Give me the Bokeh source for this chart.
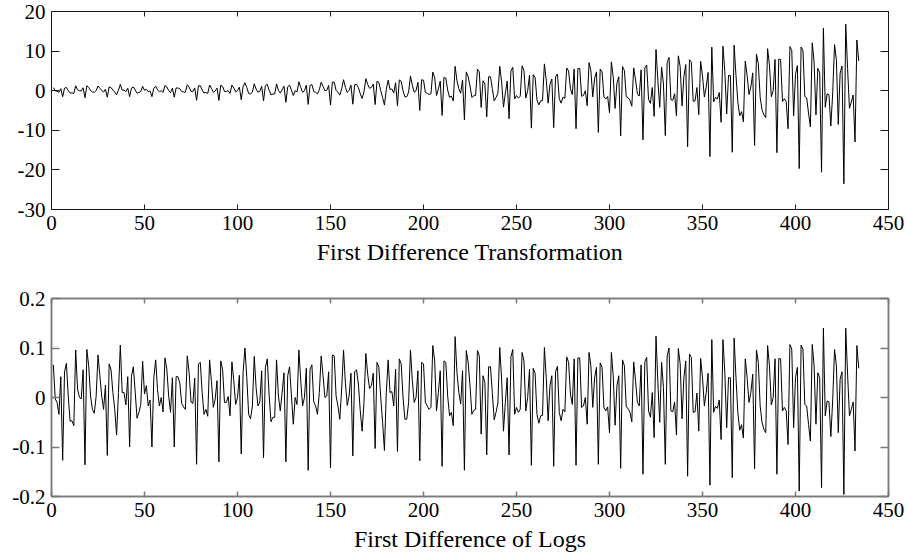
from bokeh.plotting import figure
from bokeh.models import Range1d, FixedTicker, LinearAxis
from bokeh.layouts import column
from bokeh.embed import file_html
from bokeh.resources import INLINE

# ---------------- data ----------------
months = list(range(1, 435))

# first difference of the series (upper panel), one row per 12 observations
level_diff = [
    0.79, -0.04, -0.12, -0.41, 0.50, -1.52, 0.62, 0.83, 0.04, -0.58, -0.56, -0.68,
    1.25, 0.22, 0.01, -0.04, 0.73, -1.77, 1.26, 0.83, 0.04, -0.31, -0.42, 0.03,
    1.20, 0.62, 0.04, -0.34, 0.35, -1.64, 0.95, 0.78, 0.14, -0.34, -1.06, 0.14,
    1.59, 0.15, 0.15, -0.23, 0.63, -1.50, 0.65, 0.93, 0.17, -0.63, -0.45, -0.21,
    1.10, 0.11, 0.36, -0.26, -0.08, -1.50, 0.60, 1.14, 0.24, -0.26, 0.00, -0.44,
    1.32, 0.94, 0.05, -0.50, 0.66, -1.65, 0.69, 0.69, 0.48, -0.20, -0.31, -0.40,
    1.51, 0.90, -0.16, -0.22, 0.70, -2.43, 1.22, 1.28, 0.18, -0.61, -0.43, -0.68,
    1.44, 0.61, -0.38, -0.06, 0.65, -2.47, 1.41, 1.06, -0.19, -0.19, 0.04, -0.70,
    1.44, 0.68, -0.28, 0.00, 0.90, -2.28, 1.00, 2.00, 0.80, -0.68, -0.86, -0.34,
    1.74, 0.42, -0.36, -0.19, 1.13, -2.56, 1.28, 1.64, 0.11, -1.03, -0.84, -0.84,
    1.71, 0.07, -0.61, 0.23, 1.13, -2.93, 0.99, 1.40, 0.07, -1.22, 0.00, -0.32,
    2.26, 0.80, -0.40, 0.00, 1.39, -3.45, 1.34, 1.55, -0.21, -0.40, -0.80, 0.24,
    2.14, 1.12, 0.00, 0.08, 1.33, -3.62, 2.19, 2.14, 0.08, -0.43, -1.12, 0.43,
    2.78, 0.87, -0.46, 0.09, 1.42, -3.42, 1.51, 1.62, 0.78, -0.78, -1.97, -0.29,
    3.03, 1.60, 0.61, 0.82, 1.67, -3.50, 2.41, 2.07, 0.00, -1.70, -3.64, 0.34,
    2.66, 0.35, 0.42, -0.60, 2.00, -3.82, 2.73, 2.38, 0.00, -1.54, -1.54, -0.35,
    3.74, 1.33, -0.39, 0.00, 2.11, -4.99, 2.77, 2.65, -0.39, -0.66, -0.94, -0.78,
    4.73, 3.33, -1.22, 0.45, 2.43, -6.26, 3.33, 3.20, 0.14, -1.67, -1.35, -2.57,
    6.15, 2.50, 0.50, -0.65, 2.70, -7.35, 4.75, 3.55, 1.20, -1.70, -1.30, -1.20,
    5.42, 4.79, -4.22, 2.51, 1.71, -6.61, 3.53, 3.53, 0.57, -2.57, -1.71, -0.63,
    6.16, 2.26, -4.15, -0.61, 2.44, -7.08, 5.00, 5.92, -2.07, -1.22, -1.83, -1.46,
    6.28, 5.11, -1.86, 0.00, 3.93, -9.45, 4.07, 3.38, -2.35, -3.59, -2.55, -2.48,
    6.77, 2.68, -3.15, 1.61, 2.95, -9.31, 3.48, 4.22, -2.01, -3.15, -1.61, -1.94,
    5.74, 4.97, 0.49, -0.98, 5.46, -9.59, 5.60, 5.60, -1.40, -1.19, 0.00, -3.78,
    7.10, 4.99, -1.56, 3.12, 4.76, -10.53, 5.46, 4.76, -1.56, -2.11, -1.48, -5.54,
    7.28, 3.52, -4.48, 1.92, 3.52, -11.44, 6.08, 5.12, -1.52, -1.76, -2.40, -3.92,
    5.76, 2.72, -0.80, -1.36, 5.28, -12.40, 5.76, 6.48, -2.16, -3.20, 0.80, -6.48,
    10.42, 2.52, -4.20, 5.96, 1.68, -11.34, 7.06, 8.40, -2.27, -2.44, -0.76, -6.38,
    8.81, 6.05, -3.83, 3.56, 6.59, -14.15, 7.83, 7.21, -2.67, -2.58, 0.80, -6.05,
    7.43, 3.76, -1.60, 0.94, 4.61, -16.64, 11.00, -2.82, -1.69, -2.07, -0.47, -7.99,
    11.23, 4.80, -5.86, 3.84, 3.84, -15.55, 11.52, 3.84, -2.88, -6.34, -5.28, -7.87,
    7.49, 3.84, -0.96, 0.96, 4.51, -13.82, 9.22, 6.82, -1.63, -4.80, -6.14, -6.82,
    10.61, 6.46, -1.52, 0.00, 7.88, -15.66, 7.98, 7.88, -2.73, -2.02, -2.73, -9.60,
    11.13, 10.19, -6.34, 4.16, 6.34, -19.66, 11.02, 10.19, -1.46, -1.77, -5.62, -9.15,
    12.09, 7.23, -6.10, 5.65, 4.52, -20.57, 15.82, -4.18, -0.79, -1.02, -8.93, -0.57,
    11.64, 7.68, -8.52, 4.44, 6.24, -23.52, 16.80, 5.64, -4.44, -2.88, -1.08, -12.96,
    12.81, 7.50,
]

# first difference of logs (lower panel)
log_diff = [
    0.066, -0.003, -0.010, -0.034, 0.042, -0.127, 0.052, 0.069, 0.003, -0.048, -0.047, -0.057,
    0.096, 0.017, 0.001, -0.003, 0.056, -0.136, 0.097, 0.064, 0.003, -0.024, -0.032, 0.002,
    0.086, 0.044, 0.003, -0.024, 0.025, -0.117, 0.068, 0.056, 0.010, -0.024, -0.076, 0.010,
    0.106, 0.010, 0.010, -0.015, 0.042, -0.100, 0.043, 0.062, 0.011, -0.042, -0.030, -0.014,
    0.073, 0.007, 0.024, -0.017, -0.005, -0.100, 0.040, 0.076, 0.016, -0.017, 0.000, -0.029,
    0.080, 0.057, 0.003, -0.030, 0.040, -0.100, 0.042, 0.042, 0.029, -0.012, -0.019, -0.024,
    0.084, 0.050, -0.009, -0.012, 0.039, -0.135, 0.068, 0.071, 0.010, -0.034, -0.024, -0.038,
    0.076, 0.032, -0.020, -0.003, 0.034, -0.130, 0.074, 0.056, -0.010, -0.010, 0.002, -0.037,
    0.072, 0.034, -0.014, 0.000, 0.045, -0.114, 0.050, 0.100, 0.040, -0.034, -0.043, -0.017,
    0.083, 0.020, -0.017, -0.009, 0.054, -0.122, 0.061, 0.078, 0.005, -0.049, -0.040, -0.040,
    0.076, 0.003, -0.027, 0.010, 0.050, -0.130, 0.044, 0.062, 0.003, -0.054, 0.000, -0.014,
    0.096, 0.034, -0.017, 0.000, 0.059, -0.147, 0.057, 0.066, -0.009, -0.017, -0.034, 0.010,
    0.084, 0.044, 0.000, 0.003, 0.052, -0.142, 0.086, 0.084, 0.003, -0.017, -0.044, 0.017,
    0.096, 0.030, -0.016, 0.003, 0.049, -0.118, 0.052, 0.056, 0.027, -0.027, -0.068, -0.010,
    0.089, 0.047, 0.018, 0.024, 0.049, -0.103, 0.071, 0.061, 0.000, -0.050, -0.107, 0.010,
    0.076, 0.010, 0.012, -0.017, 0.057, -0.109, 0.078, 0.068, 0.000, -0.044, -0.044, -0.010,
    0.096, 0.034, -0.010, 0.000, 0.054, -0.128, 0.071, 0.068, -0.010, -0.017, -0.024, -0.020,
    0.105, 0.074, -0.027, 0.010, 0.054, -0.139, 0.074, 0.071, 0.003, -0.037, -0.030, -0.057,
    0.123, 0.050, 0.010, -0.013, 0.054, -0.147, 0.095, 0.071, 0.024, -0.034, -0.026, -0.024,
    0.095, 0.084, -0.074, 0.044, 0.030, -0.116, 0.062, 0.062, 0.010, -0.045, -0.030, -0.011,
    0.101, 0.037, -0.068, -0.010, 0.040, -0.116, 0.082, 0.097, -0.034, -0.020, -0.030, -0.024,
    0.091, 0.074, -0.027, 0.000, 0.057, -0.137, 0.059, 0.049, -0.034, -0.052, -0.037, -0.036,
    0.101, 0.040, -0.047, 0.024, 0.044, -0.139, 0.052, 0.063, -0.030, -0.047, -0.024, -0.029,
    0.082, 0.071, 0.007, -0.014, 0.078, -0.137, 0.080, 0.080, -0.020, -0.017, 0.000, -0.054,
    0.091, 0.064, -0.020, 0.040, 0.061, -0.135, 0.070, 0.061, -0.020, -0.027, -0.019, -0.071,
    0.091, 0.044, -0.056, 0.024, 0.044, -0.143, 0.076, 0.064, -0.019, -0.022, -0.030, -0.049,
    0.072, 0.034, -0.010, -0.017, 0.066, -0.155, 0.072, 0.081, -0.027, -0.040, 0.010, -0.081,
    0.124, 0.030, -0.050, 0.071, 0.020, -0.135, 0.084, 0.100, -0.027, -0.029, -0.009, -0.076,
    0.099, 0.068, -0.043, 0.040, 0.074, -0.159, 0.088, 0.081, -0.030, -0.029, 0.009, -0.068,
    0.079, 0.040, -0.017, 0.010, 0.049, -0.177, 0.117, -0.030, -0.018, -0.022, -0.005, -0.085,
    0.117, 0.050, -0.061, 0.040, 0.040, -0.162, 0.120, 0.040, -0.030, -0.066, -0.055, -0.082,
    0.078, 0.040, -0.010, 0.010, 0.047, -0.144, 0.096, 0.071, -0.017, -0.050, -0.064, -0.071,
    0.105, 0.064, -0.015, 0.000, 0.078, -0.155, 0.079, 0.078, -0.027, -0.020, -0.027, -0.095,
    0.107, 0.098, -0.061, 0.040, 0.061, -0.189, 0.106, 0.098, -0.014, -0.017, -0.054, -0.088,
    0.107, 0.064, -0.054, 0.050, 0.040, -0.182, 0.140, -0.037, -0.007, -0.009, -0.079, -0.005,
    0.097, 0.064, -0.071, 0.037, 0.052, -0.196, 0.140, 0.047, -0.037, -0.024, -0.009, -0.108,
    0.105, 0.059,
]

x_ticks = [0, 50, 100, 150, 200, 250, 300, 350, 400, 450]
x_tick_labels = ["0", "50", "100", "150", "200", "250", "300", "350", "400", "450"]

top_y_ticks = [-30, -20, -10, 0, 10, 20]
top_y_labels = ["-30", "-20", "-10", "0", "10", "20"]

bot_y_ticks = [-0.2, -0.1, 0, 0.1, 0.2]
bot_y_labels = ["-0.2", "-0.1", "0", "0.1", "0.2"]

top_title = "First Difference Transformation"
bot_title = "First Difference of Logs"

FONT = "Liberation Serif"
TICK_SIZE = "21px"
TITLE_SIZE = "24px"


def styled_axis(ticks, labels, show, color, width, tick_len, title=None):
    ax = LinearAxis(ticker=FixedTicker(ticks=ticks))
    ax.major_label_overrides = {t: (l if show else "") for t, l in zip(ticks, labels)}
    ax.axis_line_color = color
    ax.axis_line_width = width
    ax.major_tick_line_color = color
    ax.major_tick_line_width = width
    ax.major_tick_in = tick_len
    ax.major_tick_out = 0
    ax.minor_tick_line_color = None
    ax.major_label_text_font = FONT
    ax.major_label_text_font_size = TICK_SIZE
    ax.major_label_text_color = "black"
    ax.major_label_standoff = 6
    if title is not None:
        ax.axis_label = title
        ax.axis_label_text_font = FONT
        ax.axis_label_text_font_size = TITLE_SIZE
        ax.axis_label_text_font_style = "normal"
        ax.axis_label_text_color = "black"
        ax.axis_label_standoff = 6
    return ax


def make_panel(height, border_top, border_bottom, y_range, y_ticks, y_labels,
               title, values, color, width):
    p = figure(width=907, height=height,
               x_range=Range1d(0, 450), y_range=Range1d(*y_range),
               output_backend="svg", toolbar_location=None,
               x_axis_location=None, y_axis_location=None,
               min_border_left=51, min_border_right=19,
               min_border_top=border_top, min_border_bottom=border_bottom)
    for g in p.grid:
        g.visible = False
    p.outline_line_color = color
    p.outline_line_width = width
    p.background_fill_color = "white"
    p.border_fill_color = "white"

    p.add_layout(styled_axis(x_ticks, x_tick_labels, True, color, width, 5, title), "below")
    p.add_layout(styled_axis(x_ticks, x_tick_labels, False, color, width, 5), "above")
    p.add_layout(styled_axis(y_ticks, y_labels, True, color, width, 8), "left")
    p.add_layout(styled_axis(y_ticks, y_labels, False, color, width, 8), "right")

    p.line(x=months, y=values, line_color="black", line_width=1)
    return p


p_top = make_panel(287, 11, 78, (-30, 20), top_y_ticks, top_y_labels,
                   top_title, level_diff, "#1a1a1a", 1)
p_bot = make_panel(272, 11, 63, (-0.2, 0.2), bot_y_ticks, bot_y_labels,
                   bot_title, log_diff, "#7a7a7a", 1.5)

layout = column(p_top, p_bot, spacing=0)

open("out.html", "w").write(file_html(layout, INLINE))
